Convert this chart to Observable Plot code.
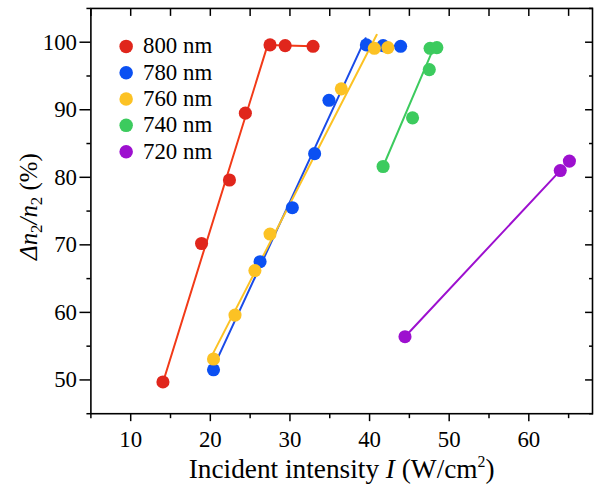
<!DOCTYPE html>
<html><head><meta charset="utf-8">
<script src="https://cdn.jsdelivr.net/npm/d3@7"></script>
<script src="https://cdn.jsdelivr.net/npm/@observablehq/plot@0.6"></script>
<style>
html,body{margin:0;padding:0;background:#fff;overflow:hidden;width:594px;height:487px}
#chart svg{display:block}
</style></head><body><div id="chart"></div>
<script>
// ---- data ----
const wavelengths = ["800 nm", "780 nm", "760 nm", "740 nm", "720 nm"];
const dotColors  = ["#e0261c", "#0b50f2", "#fcc224", "#3ccb5e", "#9d10cf"];
const lineColors = ["#f23a18", "#1a4be8", "#fcc224", "#3ccb5e", "#9d10cf"];

const I800 = [14.05, 18.9, 22.4, 24.4, 27.5, 29.4, 32.9];
const D800 = [49.7, 70.2, 79.6, 89.5, 99.6, 99.5, 99.4];
const I780 = [20.4, 26.25, 30.3, 33.1, 34.9, 39.6, 41.7, 43.9];
const D780 = [51.5, 67.5, 75.5, 83.5, 91.4, 99.6, 99.5, 99.4];
const I760 = [20.4, 23.1, 25.6, 27.5, 36.45, 40.6, 42.3];
const D760 = [53.1, 59.6, 66.2, 71.6, 93.1, 99.1, 99.2];
const I740 = [41.7, 45.4, 47.5, 47.6, 48.45];
const D740 = [81.6, 88.8, 95.95, 99.1, 99.2];
const I720 = [44.45, 63.95, 65.1];
const D720 = [56.4, 81.0, 82.4];

// fitted guide lines (segments): [I, Δn2/n2]
const fit800 = [[[14.1, 49.8], [27.2, 99.6], [32.9, 99.4]]];
const fit780 = [[[20.4, 51.9], [39.5, 100.6]], [[39.7, 99.5], [43.9, 99.4]]];
const fit760 = [[[20.2, 53.6], [40.9, 101.1]], [[40.6, 99.15], [42.3, 99.2]]];
const fit740 = [[[41.7, 81.6], [48.0, 99.0]]];
const fit720 = [[[44.45, 56.4], [63.8, 80.8]]];

const xMajor = [10, 20, 30, 40, 50, 60];
const xMinor = [5, 15, 25, 35, 45, 55, 65];
const yMajor = [50, 60, 70, 80, 90, 100];
const yMinor = [45, 55, 65, 75, 85, 95, 105];
const xAll = [5, 10, 15, 20, 25, 30, 35, 40, 45, 50, 55, 60, 65];

// ---- build tables ----
const Is = [I800, I780, I760, I740, I720];
const Ds = [D800, D780, D760, D740, D720];
const fits = [fit800, fit780, fit760, fit740, fit720];
const points = Is.flatMap((I, s) => I.map((x, j) => ({s, x, y: Ds[s][j], c: dotColors[s]})));
const lines = fits.flatMap((segs, s) => segs.flatMap((seg, k) =>
  seg.map(([x, y]) => ({x, y, seg: s + "-" + k, c: lineColors[s]}))));

const F = "'Liberation Serif', 'Times New Roman', serif";

const plot = Plot.plot({
  width: 598, height: 487,
  marginTop: 8, marginBottom: 71, marginLeft: 91, marginRight: 2,
  x: {domain: [5, 68]},
  y: {domain: [45, 105]},
  color: {type: "identity"},
  style: {fontFamily: F, fontSize: "22px", color: "black", background: "white", overflow: "visible"},
  marks: [
    Plot.axisX({anchor: "bottom", ticks: xMinor, tickSize: 5, tickFormat: () => "", label: null, strokeWidth: 1.5}),
    Plot.axisX({anchor: "bottom", ticks: xMajor, tickSize: 8, tickPadding: 9, label: null, strokeWidth: 1.5, fontSize: 23}),
    Plot.axisX({anchor: "top", ticks: xAll, tickSize: -7, tickFormat: () => "", label: null, strokeWidth: 1.5}),
    Plot.axisY({anchor: "left", ticks: yMinor, tickSize: 4, tickFormat: () => "", label: null, strokeWidth: 1.5}),
    Plot.axisY({anchor: "left", ticks: yMajor, tickSize: 11, tickPadding: 3, label: null, strokeWidth: 1.5, fontSize: 23}),
    Plot.axisY({anchor: "right", ticks: yMajor, tickSize: -8, tickFormat: () => "", label: null, strokeWidth: 1.5}),
    Plot.axisY({anchor: "right", ticks: yMinor, tickSize: -4, tickFormat: () => "", label: null, strokeWidth: 1.5}),
    Plot.frame({stroke: "black", strokeWidth: 1.6}),
    Plot.line(lines, {x: "x", y: "y", z: "seg", stroke: "c", strokeWidth: 2}),
    Plot.dot(points, {x: "x", y: "y", r: 6.6, fill: "c", stroke: "none"})
  ]
});
document.getElementById("chart").appendChild(plot);

// ---- titles and legend ----
const svg = d3.select(plot);
// y title: Δn2/n2 (%)
const yt = svg.append("text")
  .attr("transform", "translate(37,208) rotate(-90)")
  .attr("text-anchor", "middle")
  .attr("font-family", F).attr("font-size", 25).attr("fill", "black");
yt.append("tspan").attr("font-style", "italic").text("Δn");
yt.append("tspan").attr("font-size", 17).attr("dy", 5).text("2");
yt.append("tspan").attr("font-style", "italic").attr("dy", -5).text("/n");
yt.append("tspan").attr("font-size", 17).attr("dy", 5).text("2");
yt.append("tspan").attr("dy", -5).text(" (%)");

// x title
const xt = svg.append("text")
  .attr("x", 344).attr("y", 481)
  .attr("text-anchor", "middle")
  .attr("font-family", F).attr("font-size", 27.5).attr("fill", "black");
xt.append("tspan").text("Incident intensity ");
xt.append("tspan").attr("font-style", "italic").text("I");
xt.append("tspan").text(" (W/cm");
xt.append("tspan").attr("font-size", 16).attr("dy", -11).text("2");
xt.append("tspan").attr("dy", 11).text(")");

// legend
const lg = svg.append("g");
wavelengths.forEach((w, i) => {
  const cy = 46.7 + i * 26.5;
  lg.append("circle").attr("cx", 127).attr("cy", cy).attr("r", 6.8).attr("fill", dotColors[i]);
  lg.append("text").attr("x", 144).attr("y", cy + 7).attr("text-anchor", "start")
    .attr("font-family", F).attr("font-size", 23).attr("fill", "black").text(w);
});
</script></body></html>
